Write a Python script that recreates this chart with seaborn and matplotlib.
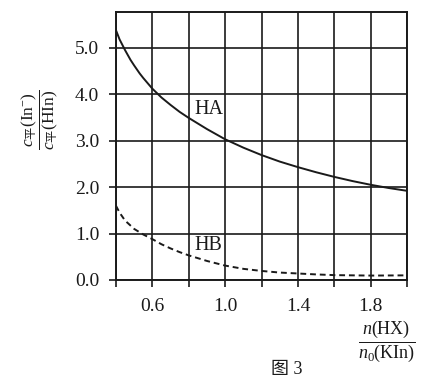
import matplotlib
matplotlib.use("Agg")
import matplotlib.pyplot as plt
import seaborn as sns
import pandas as pd

# Data
ha_x = [0.4, 0.42, 0.45, 0.48, 0.5, 0.53, 0.55, 0.6, 0.65, 0.7, 0.75, 0.8, 0.9, 1.0, 1.1, 1.2,
        1.3, 1.4, 1.5, 1.6, 1.7, 1.8, 1.9, 2.0]
ha_y = [5.38, 5.18, 4.95, 4.74, 4.62, 4.45, 4.35, 4.12, 3.93, 3.77, 3.62, 3.49, 3.25, 3.03,
        2.85, 2.69, 2.55, 2.43, 2.32, 2.22, 2.13, 2.05, 1.98, 1.92]
hb_x = [0.4, 0.42, 0.45, 0.5, 0.55, 0.6, 0.65, 0.7, 0.75, 0.8, 0.9, 1.0, 1.1, 1.2,
        1.3, 1.4, 1.5, 1.6, 1.8, 2.0]
hb_y = [1.6, 1.45, 1.28, 1.1, 0.98, 0.88, 0.77, 0.68, 0.6, 0.53, 0.41, 0.31, 0.24, 0.195,
        0.16, 0.14, 0.12, 0.105, 0.095, 0.1]
x_ticks = [0.4, 0.6, 0.8, 1.0, 1.2, 1.4, 1.6, 1.8, 2.0]
x_labels = ["", "0.6", "", "1.0", "", "1.4", "", "1.8", ""]
y_ticks = [0.0, 1.0, 2.0, 3.0, 4.0, 5.0]
y_labels = ["0.0", "1.0", "2.0", "3.0", "4.0", "5.0"]

sns.set_style("white")
plt.rcParams["font.family"] = ["Liberation Serif", "Noto Sans CJK SC"]
plt.rcParams["mathtext.fontset"] = "custom"
plt.rcParams["mathtext.rm"] = "Liberation Serif"
plt.rcParams["mathtext.it"] = "Liberation Serif:italic"
plt.rcParams["mathtext.sf"] = "Noto Sans CJK SC"

df_a = pd.DataFrame({"x": ha_x, "y": ha_y})
df_b = pd.DataFrame({"x": hb_x, "y": hb_y})

fig = plt.figure(figsize=(4.46, 3.87), dpi=100)
ax = fig.add_axes([0.260, 0.2765, 0.653, 0.6935])

sns.lineplot(data=df_a, x="x", y="y", ax=ax, color="#1a1a1a", linewidth=1.4)
sns.lineplot(data=df_b, x="x", y="y", ax=ax, color="#1a1a1a", linewidth=1.4,
             linestyle=(0, (3, 2)))

ax.set_xlim(0.4, 2.0)
ax.set_ylim(0.0, 5.78)
ax.set_xticks(x_ticks)
ax.set_xticklabels(x_labels)
ax.set_yticks(y_ticks)
ax.set_yticklabels(y_labels)
ax.grid(True, color="#1a1a1a", linewidth=1.2)
ax.set_axisbelow(True)
for s in ax.spines.values():
    s.set_color("#1a1a1a")
    s.set_linewidth(1.4)
ax.tick_params(axis="both", direction="out", length=5, width=1.2, color="#1a1a1a",
               labelsize=14, labelcolor="#1a1a1a", left=True, bottom=True)
ax.tick_params(axis="x", pad=8)
ax.tick_params(axis="y", pad=7)
ax.set_xlabel("")
ax.set_ylabel("")

ax.text(0.83, 3.67, "HA", fontsize=14.5, ha="left", va="center", color="#1a1a1a")
ax.text(0.83, 0.75, "HB", fontsize=14.5, ha="left", va="center", color="#1a1a1a")

fig.text(0.09, 0.69,
         r"$\dfrac{c_{\mathsf{平}}(\mathrm{In}^{-})}{c_{\mathsf{平}}(\mathrm{HIn})}$",
         rotation=90, fontsize=12.5, ha="center", va="center", color="#1a1a1a")
fig.text(0.868, 0.118,
         r"$\dfrac{n(\mathrm{HX})}{n_{0}(\mathrm{KIn})}$",
         fontsize=13, ha="center", va="center", color="#1a1a1a")
fig.text(0.643, 0.044, "图 3", fontsize=13, ha="center", va="center", color="#1a1a1a",
         family=["Liberation Serif", "Noto Sans CJK SC"])

fig.savefig("out.png", dpi=100, facecolor="white")
